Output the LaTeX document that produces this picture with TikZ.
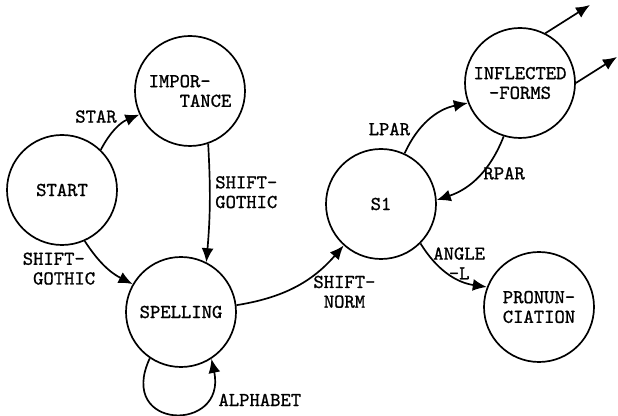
\documentclass[tikz,border=0pt]{standalone}
\usepackage{fontspec}
\newfontfamily\diagfont{lmmono10-regular.otf}[FakeBold=1]
\usetikzlibrary{arrows.meta}

\begin{document}
\begin{tikzpicture}[->,>={Latex[length=10pt,width=8.5pt]},line width=1.2pt,
		every node/.style={font=\diagfont\fontsize{14}{14}\selectfont},
		stnode/.style={draw,circle,minimum size=2.75cm,inner sep=0pt,align=center}]

		\useasboundingbox (0,0) rectangle (15.45,10.4);

		\node at (1.55,5.65) [stnode] (Start) {START};
		\node at (4.75,8.125) [stnode,align=left] (Impo) {IMPOR-\\\phantom{IMP}TANCE};
		\node at (4.525,2.6) [stnode] (Spell) {SPELLING};
		\node at (9.525,5.3) [stnode] (S1) {S1};
		\node at (13.0,8.325) [stnode] (Infl) {INFLECTED\\-FORMS};
		\node at (13.475,2.725) [stnode,align=left] (Pron) {PRONUN-\\CIATION};

		\coordinate (Out1) at (14.75,10.275);
		\coordinate (Out2) at (15.425,8.975);

		\path
		(Start.46) edge [bend left=20] node [above left, xshift=4pt] {STAR} (Impo.205)
		(Start.-66) edge [bend right=15] node [pos=0.15, below left, xshift=7pt, yshift=2pt, align=left] {SHIFT-\\\phantom{S}GOTHIC} (Spell.150)
		(Impo.-71) edge [bend left=4] node [pos=0.4, right, align=left] {SHIFT-\\GOTHIC} (Spell.63)
		(Spell.7) edge [bend right=20] node [pos=0.62, anchor=north west, yshift=6pt, align=left] {SHIFT-\\\phantom{S}NORM} (S1.228)
		(S1.65) edge [bend left=27] node [pos=0.33, left=3pt] {LPAR} (Infl.201)
		(Infl.-107) edge [bend left=25] node [pos=0.45, anchor=west, inner sep=1pt] {RPAR} (S1.4)
		(S1.-45) edge [bend right=25] node [pos=0.6, anchor=south, xshift=3pt, yshift=-3pt, inner sep=1pt, align=center] {ANGLE\\-L} (Pron.159);

		\draw (Spell.-124) .. controls +(-115:2.0) and +(-78:1.9) ..
			node [pos=0.8, anchor=west, xshift=7pt, yshift=-4pt, inner sep=0pt] {ALPHABET} (Spell.-57);

		\draw (Infl.63) -- (Out1);
		\draw (Infl.0) -- (Out2);
	\end{tikzpicture}
\end{document}
